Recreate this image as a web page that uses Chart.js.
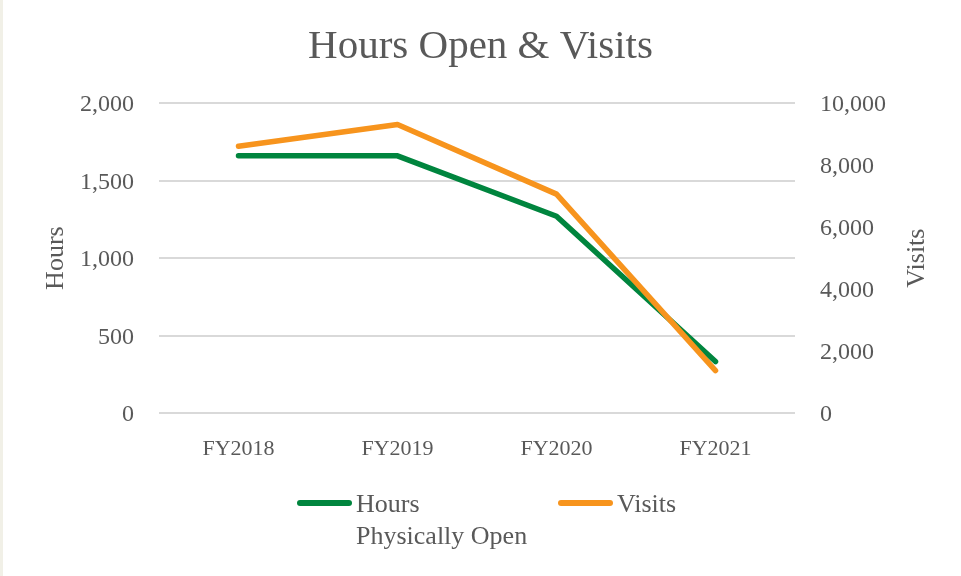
<!DOCTYPE html>
<html>
<head>
<meta charset="utf-8">
<script src="https://cdn.jsdelivr.net/npm/chart.js@4"></script>
<style>
  html, body { margin: 0; padding: 0; background: #ffffff; }
  #wrap { position: relative; width: 961px; height: 576px; }
  #strip { position: absolute; left: 0; top: 0; width: 3px; height: 576px; background: #f1f0e7; }
</style>
</head>
<body>
<div id="wrap">
  <canvas id="myChart" width="961" height="576"></canvas>
  <div id="strip"></div>
</div>
<script>
// Chart data
var years = ['FY2018', 'FY2019', 'FY2020', 'FY2021'];
var hoursOpen = [1660, 1660, 1270, 332];
var visits = [8610, 9310, 7065, 1370];

var hoursTicks = [0, 500, 1000, 1500, 2000];
var visitsTicks = [0, 2000, 4000, 6000, 8000, 10000];

var seriesNames = ['Hours Physically Open', 'Visits'];
var legendLines = [['Hours', 'Physically Open'], ['Visits']];
var axisTitles = ['Hours', 'Visits'];

var serif = "'Liberation Serif', 'DejaVu Serif', serif";
var textColor = '#595959';
var green = '#00853e';
var orange = '#f7941d';

// legend and the two axis titles (right one reads bottom to top)
var extras = {
    id: 'extras',
    afterDraw: function (chart) {
        var c = chart.ctx;
        var area = chart.chartArea;
        var midY = (area.top + area.bottom) / 2;
        c.save();
        c.fillStyle = textColor;
        c.font = '26px ' + serif;
        c.textAlign = 'center';
        c.textBaseline = 'alphabetic';

        c.save();
        c.translate(63, midY);
        c.rotate(-Math.PI / 2);
        c.fillText(axisTitles[0], 0, 0);
        c.restore();

        c.save();
        c.translate(924, midY);
        c.rotate(-Math.PI / 2);
        c.fillText(axisTitles[1], 0, 0);
        c.restore();

        // legend
        var starts = [297, 558];
        chart.data.datasets.forEach(function (ds, i) {
            var k = ds.legendIndex;
            var x = starts[k];
            c.strokeStyle = ds.borderColor;
            c.lineWidth = 6;
            c.lineCap = 'round';
            c.beginPath();
            c.moveTo(x + 3, 503);
            c.lineTo(x + 52, 503);
            c.stroke();
            c.font = '26px ' + serif;
            c.textAlign = 'left';
            legendLines[k].forEach(function (line, j) {
                c.fillText(line, x + 59, 512 + j * 32);
            });
        });
        c.restore();
    }
};

const ctx = document.getElementById('myChart').getContext('2d');
const config = {
    type: 'line',
    data: {
        labels: years,
        datasets: [{
            label: seriesNames[1],
            data: visits,
            yAxisID: 'y2',
            borderColor: orange,
            backgroundColor: orange,
            borderWidth: 5.5,
            borderCapStyle: 'round',
            borderJoinStyle: 'round',
            pointRadius: 0,
            tension: 0,
            fill: false,
            order: 0,
            legendIndex: 1
        }, {
            label: seriesNames[0],
            data: hoursOpen,
            yAxisID: 'y',
            borderColor: green,
            backgroundColor: green,
            borderWidth: 5.5,
            borderCapStyle: 'round',
            borderJoinStyle: 'round',
            pointRadius: 0,
            tension: 0,
            fill: false,
            order: 1,
            legendIndex: 0
        }]
    },
    options: {
        responsive: false,
        animation: false,
        layout: { padding: 0 },
        plugins: {
            legend: { display: false },
            tooltip: { enabled: false },
            title: {
                display: true,
                text: 'Hours Open & Visits',
                color: textColor,
                font: { family: serif, size: 41, weight: 'normal', lineHeight: 1.2 },
                padding: { top: 23, bottom: 31 }
            }
        },
        scales: {
            x: {
                offset: true,
                grid: { display: false, drawTicks: false },
                border: { display: false },
                ticks: {
                    color: textColor,
                    font: { family: serif, size: 22 },
                    padding: 23,
                    maxRotation: 0
                },
                afterFit: function (scale) { scale.height = 163; }
            },
            y: {
                position: 'left',
                min: 0,
                max: 2000,
                afterBuildTicks: function (scale) {
                    scale.ticks = hoursTicks.map(function (v) { return { value: v }; });
                },
                grid: { color: '#d9d9d9', lineWidth: 2, drawTicks: false },
                border: { display: false },
                ticks: {
                    color: textColor,
                    font: { family: serif, size: 24 },
                    padding: 25,
                    labelOffset: 2,
                    callback: function (v) { return v.toLocaleString('en-US'); }
                },
                afterFit: function (scale) { scale.width = 159; }
            },
            y2: {
                position: 'right',
                min: 0,
                max: 10000,
                afterBuildTicks: function (scale) {
                    scale.ticks = visitsTicks.map(function (v) { return { value: v }; });
                },
                grid: { display: false, drawTicks: false },
                border: { display: false },
                ticks: {
                    color: textColor,
                    font: { family: serif, size: 24 },
                    padding: 25,
                    labelOffset: 2,
                    callback: function (v) { return v.toLocaleString('en-US'); }
                },
                afterFit: function (scale) { scale.width = 166; }
            }
        }
    },
    plugins: [extras]
};

const myChart = new Chart(ctx, config);
</script>
</body>
</html>
